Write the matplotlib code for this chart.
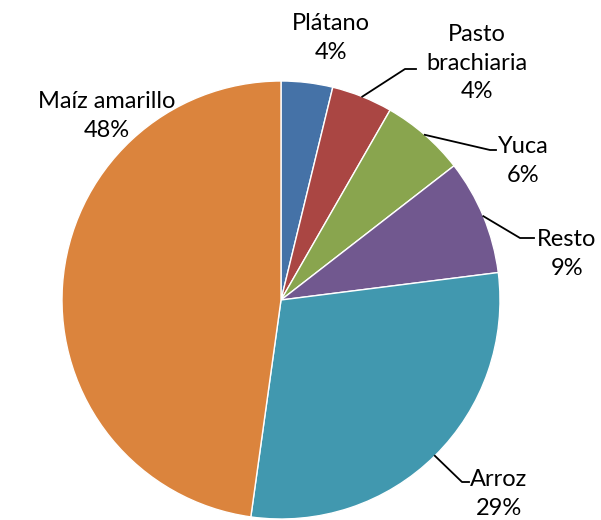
import numpy as np
import matplotlib.pyplot as plt

# Participación por cultivo
cultivos = ["Plátano", "Pasto\nbrachiaria", "Yuca", "Resto", "Arroz", "Maíz amarillo"]
valores = [3.8, 4.5, 6.2, 8.5, 29.2, 47.8]
etiquetas_pct = ["4%", "4%", "6%", "9%", "29%", "48%"]
colores = ["#4572A7", "#AA4643", "#89A54E", "#71588F", "#4198AF", "#DB843D"]

W, H = 601, 520
fig = plt.figure(figsize=(W / 100, H / 100), dpi=100)
ax = fig.add_axes([0, 0, 1, 1])

cx, cy, r = 281, H - 300, 219
wedges, _ = ax.pie(valores, colors=colores, startangle=90, counterclock=False,
                   center=(cx, cy), radius=r, frame=True,
                   wedgeprops=dict(edgecolor="white", linewidth=1))
ax.set_xlim(0, W)
ax.set_ylim(0, H)
ax.set_aspect("equal")
ax.axis("off")

# posiciones de las etiquetas (pixeles, desde arriba) y codos de las guías
pos_texto = [(331, 38), (477, 63), (523, 161), (567, 254), (499, 494), (107, 116)]
codos = [None, [(405, 69), (416, 69)], [(490, 150), (496, 150)],
         [(520, 238), (534, 238)], [(462, 482), (469, 482)], None]

fuente = "Lato"
for w, nombre, pct, (tx, ty), codo in zip(wedges, cultivos, etiquetas_pct, pos_texto, codos):
    ax.text(tx, H - ty, nombre + "\n" + pct, ha="center", va="center",
            fontsize=17, family=fuente, linespacing=1.45)
    if codo:
        ang = np.deg2rad((w.theta1 + w.theta2) / 2)
        x0, y0 = cx + r * np.cos(ang), cy + r * np.sin(ang)
        xs = [x0] + [p[0] for p in codo]
        ys = [y0] + [H - p[1] for p in codo]
        ax.plot(xs, ys, color="black", linewidth=1.3)

fig.savefig("out.png", dpi=100)
